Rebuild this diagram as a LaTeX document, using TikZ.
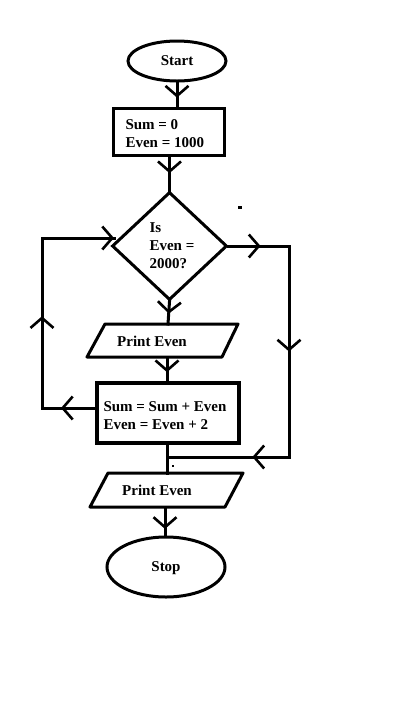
\documentclass[tikz,border=0pt]{standalone}
\usepackage{fontspec}
\setmainfont{Liberation Serif}
\usetikzlibrary{shapes.geometric,decorations.markings,arrows.meta}
\begin{document}
\begin{tikzpicture}[x=1pt,y=-1pt,line width=3pt,line cap=rect,
  txt/.style={font=\bfseries\fontsize{15}{18}\selectfont,inner sep=0pt},
  midarr/.style={postaction={decorate},decoration={markings,
     mark=at position #1 with {\arrow{Straight Barb[length=10pt,width=23pt,line width=2.6pt]}}}}]
\fill[white] (0,0) rectangle (408,716);
\useasboundingbox (0,0) rectangle (408,716);
% shapes
\node[ellipse,draw,minimum width=98pt,minimum height=40pt,inner sep=0pt] (start) at (177,61) {};
\node[txt] (starttxt) at (177,61) {Start};
\node[rectangle,draw,minimum width=111pt,minimum height=47pt,inner sep=0pt] (b1) at (168.5,131.5) {};
\node[txt,anchor=west,align=left] (b1txt) at (124,134) {Sum = 0\\Even = 1000};
\node[diamond,draw,minimum width=115pt,minimum height=108pt,inner sep=0pt] (d) at (169.5,246) {};
\node[txt,anchor=west,align=left] (dtxt) at (148,246) {Is\\Even =\\2000?};
\coordinate (p1a) at (105,324); \coordinate (p1b) at (238,324);
\coordinate (p1c) at (222,357); \coordinate (p1d) at (87,357);
\draw[line cap=round,line join=round] (p1a) -- (p1b) -- (p1c) -- (p1d) -- cycle;
\node[txt] (p1) at (152,341) {Print Even};
\node[rectangle,draw,line width=4.5pt,minimum width=142pt,minimum height=60pt,inner sep=0pt] (b2) at (168,413) {};
\node[txt,anchor=west,align=left] (b2txt) at (102,416) {Sum = Sum + Even\\Even = Even + 2};
\coordinate (p2a) at (108,473); \coordinate (p2b) at (243,473);
\coordinate (p2c) at (225,507); \coordinate (p2d) at (90,507);
\draw[line cap=round,line join=round] (p2a) -- (p2b) -- (p2c) -- (p2d) -- cycle;
\node[txt] (p2) at (157,490) {Print Even};
\node[ellipse,draw,minimum width=118pt,minimum height=60pt,inner sep=0pt] (stop) at (166,567) {};
\node[txt] (stoptxt) at (166,568) {Stop};
% connector points
\coordinate (p1in) at (168,324);
\coordinate (p1out) at (167,357);
\coordinate (p2in) at (167,473);
\coordinate (p2out) at (165,507);
\coordinate (l1) at (42,408);
\coordinate (l2) at (42,238);
\coordinate (din) at (114,238);
\coordinate (r1) at (289,246);
\coordinate (r2) at (289,457);
\coordinate (r3) at (167,457);
% connectors
\draw[midarr=0.63] (start.south) -- (start.south |- b1.north);
\draw[midarr=0.49] (b1.south -| d.north) -- (d.north);
\draw[midarr=0.54] (d.south) -- (p1in);
\draw[midarr=0.64] (p1out) -- (p1out |- b2.north);
\draw[midarr=0.64] (b2.west |- l1) -- (l1);
\draw[midarr=0.54] (l1) -- (l2);
\draw[midarr=1] (l2) -- (din);
\draw[midarr=0.53] (d.east) -- (r1);
\draw[midarr=0.5] (r1) -- (r2);
\draw[midarr=0.3] (r2) -- (r3);
\draw (b2.south -| p2in) -- (p2in);
\draw[midarr=0.77] (p2out) -- (p2out |- stop.north);
% stray marks
\fill (238,206) rectangle (242,209);
\fill (172,465) rectangle (174,467);
\end{tikzpicture}
\end{document}
